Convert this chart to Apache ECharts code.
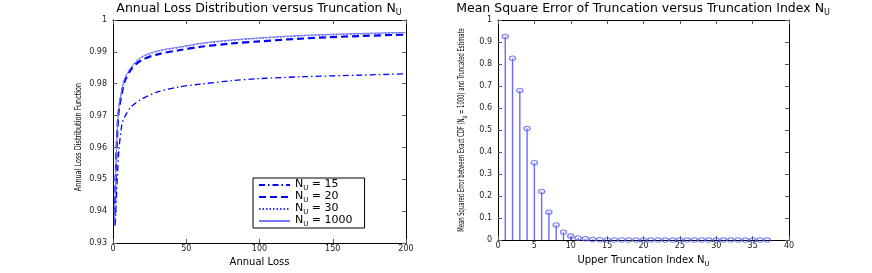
<!DOCTYPE html>
<html><head><meta charset="utf-8">
<script src="https://cdn.jsdelivr.net/npm/echarts@6/dist/echarts.min.js"></script>
<style>html,body{margin:0;padding:0;background:#fff}#c{width:872px;height:273px}</style>
</head><body><div id="c"></div>
<script>
// ---- data ----
var lossGrid = [1, 1.5, 2, 2.5, 3, 4, 6, 8, 12.5, 19, 31, 45, 60, 80, 100, 130, 170, 200];
var cdfN15   = [null, 0.9357, 0.941, 0.946, 0.951, 0.959, 0.967, 0.9696, 0.9728, 0.9750, 0.9775, 0.9790, 0.9799, 0.9809, 0.9816, 0.9822, 0.9827, 0.9831];
var cdfN20   = [0.9355, 0.9445, 0.9533, 0.9600, 0.9655, 0.9718, 0.9770, 0.9808, 0.9846, 0.9873, 0.9893, 0.9905, 0.9916, 0.9926, 0.9933, 0.9942, 0.9950, 0.9954];
var cdfN30   = [0.9356, 0.9449, 0.9538, 0.9608, 0.9663, 0.9726, 0.9778, 0.9815, 0.9851, 0.9881, 0.9902, 0.9913, 0.9925, 0.9935, 0.9942, 0.9950, 0.9956, 0.9960];
var cdfN1000 = [0.9357, 0.9450, 0.9540, 0.9610, 0.9665, 0.9728, 0.9780, 0.9817, 0.9853, 0.9883, 0.9904, 0.9915, 0.9927, 0.9937, 0.9944, 0.9952, 0.9958, 0.9961];
var legendNames = ['N15', 'N20', 'N30', 'N1000'];

var truncIndex = [1, 2, 3, 4, 5, 6, 7, 8, 9, 10, 11, 12, 13, 14, 15, 16, 17, 18, 19, 20, 21, 22, 23, 24, 25, 26, 27, 28, 29, 30, 31, 32, 33, 34, 35, 36, 37];
var mseValues = [0.925, 0.826, 0.680, 0.507, 0.351, 0.221, 0.127, 0.069, 0.036, 0.018, 0.010, 0.006, 0.003, 0.0015, 0.0008, 0.0004, 0.0002, 0.0001, 0.00005, 0, 0, 0, 0, 0, 0, 0, 0, 0, 0, 0, 0, 0, 0, 0, 0, 0, 0];

var leftTitle = 'Annual Loss Distribution versus Truncation N';
var rightTitle = 'Mean Square Error of Truncation versus Truncation Index N';
var leftYName = 'Annual Loss Distribution Function';
var rightYNameA = 'Mean Squared Error between Exact CDF (N';
var rightYNameB = ' = 1000) and Truncated Estimate';

// ---- helpers ----
function pairs(xs, ys) {
  var out = [];
  for (var k = 0; k < xs.length; k++) if (ys[k] !== null) out.push([xs[k], ys[k]]);
  return out;
}
var tickFont = {fontFamily: 'DejaVu Sans', fontSize: 8, color: '#222'};
function richSub(size, subSize, drop) {
  return {
    n: {fontFamily: 'DejaVu Sans', fontSize: size, fontWeight: 'normal', color: '#000', lineHeight: size + 1, verticalAlign: 'top'},
    s: {fontFamily: 'DejaVu Sans', fontSize: subSize, fontWeight: 'normal', color: '#000', lineHeight: subSize + 1, padding: [drop, 0, 0, 0], verticalAlign: 'top'}
  };
}
function axisBase(opts) {
  var a = {
    type: 'value', gridIndex: opts.grid, min: opts.min, max: opts.max, interval: opts.interval,
    position: opts.position,
    splitLine: {show: false},
    axisLine: {show: true, onZero: false, lineStyle: {color: '#000', width: 1}},
    axisTick: {show: true, inside: true, length: 4, lineStyle: {color: '#555'}},
    axisLabel: {show: false}
  };
  if (opts.labels) {
    a.axisLabel = Object.assign({show: true, margin: opts.margin, formatter: function (v) { return String(+v.toFixed(2)); }}, tickFont);
  }
  if (opts.name) {
    a.name = opts.name;
    a.nameLocation = 'middle';
    a.nameGap = opts.nameGap;
    a.nameTextStyle = opts.nameTextStyle;
  }
  return a;
}

var chart = echarts.init(document.getElementById('c'), null, {renderer: 'canvas'});
var option = {
  animation: false,
  backgroundColor: '#fff',
  title: [
    {text: '{n|' + leftTitle + '}{s|U}', left: 259, top: 2, textAlign: 'center', padding: 0,
     textStyle: {rich: richSub(12.5, 8, 7)}},
    {text: '{n|' + rightTitle + '}{s|U}', left: 643, top: 2, textAlign: 'center', padding: 0,
     textStyle: {rich: richSub(12.5, 8, 7)}}
  ],
  graphic: [
    {type: 'text', x: 79, y: 137, rotation: Math.PI / 2, scaleX: 0.72, scaleY: 1,
     style: {text: leftYName, fontFamily: 'DejaVu Sans', fontSize: 9, fill: '#000', align: 'center', verticalAlign: 'middle'}},
    {type: 'text', x: 462, y: 130, rotation: Math.PI / 2, scaleX: 0.62, scaleY: 1,
     style: {text: '{n|' + rightYNameA + '}{s|U}{n|' + rightYNameB + '}', align: 'center', verticalAlign: 'middle',
             rich: {n: {fontFamily: 'DejaVu Sans', fontSize: 8.5, fill: '#000', lineHeight: 10, verticalAlign: 'top'},
                    s: {fontFamily: 'DejaVu Sans', fontSize: 6, fill: '#000', lineHeight: 7, padding: [5, 0, 0, 0], verticalAlign: 'top'}}}}
  ],
  grid: [
    {left: 113, right: 466, top: 20, bottom: 30, show: false},
    {left: 498, right: 83, top: 20, bottom: 30, show: false}
  ],
  xAxis: [
    axisBase({grid: 0, min: 0, max: 200, interval: 50, position: 'bottom', labels: true, margin: 2,
      name: 'Annual Loss', nameGap: 3, nameTextStyle: {fontFamily: 'DejaVu Sans', fontSize: 10, color: '#000'}}),
    axisBase({grid: 0, min: 0, max: 200, interval: 50, position: 'top'}),
    axisBase({grid: 1, min: 0, max: 40, interval: 5, position: 'bottom', labels: true, margin: 2,
      name: '{n|Upper Truncation Index N}{s|U}', nameGap: 3,
      nameTextStyle: {rich: richSub(10, 7, 6)}}),
    axisBase({grid: 1, min: 0, max: 40, interval: 5, position: 'top'})
  ],
  yAxis: [
    axisBase({grid: 0, min: 0.93, max: 1, interval: 0.01, position: 'left', labels: true, margin: 6}),
    axisBase({grid: 0, min: 0.93, max: 1, interval: 0.01, position: 'right'}),
    axisBase({grid: 1, min: 0, max: 1, interval: 0.1, position: 'left', labels: true, margin: 6}),
    axisBase({grid: 1, min: 0, max: 1, interval: 0.1, position: 'right'})
  ],
  legend: {
    orient: 'vertical', left: 253, top: 178,
    padding: [1, 12, 0, 5], itemGap: -1, itemWidth: 31, itemHeight: 10,
    backgroundColor: '#fff', borderColor: '#000', borderWidth: 1,
    data: legendNames,
    itemStyle: {opacity: 0},
    formatter: function (name) { return '{n|N}{s|U}{n| = ' + name.slice(1) + '}'; },
    textStyle: {rich: richSub(11, 7, 6)}
  },
  series: [
    {name: 'N15', type: 'line', xAxisIndex: 0, yAxisIndex: 0, data: pairs(lossGrid, cdfN15), symbol: 'none', smooth: 0.3,
     lineStyle: {color: '#0000ff', width: 1.3, type: [6, 3, 1.5, 3]}, itemStyle: {color: '#0000ff'}},
    {name: 'N20', type: 'line', xAxisIndex: 0, yAxisIndex: 0, data: pairs(lossGrid, cdfN20), symbol: 'none', smooth: 0.3,
     lineStyle: {color: '#0000ff', width: 2.2, type: [7, 4]}, itemStyle: {color: '#0000ff'}},
    {name: 'N30', type: 'line', xAxisIndex: 0, yAxisIndex: 0, data: pairs(lossGrid, cdfN30), symbol: 'none', smooth: 0.3,
     lineStyle: {color: '#3333ff', width: 1, type: [1.5, 2]}, itemStyle: {color: '#3333ff'}},
    {name: 'N1000', type: 'line', xAxisIndex: 0, yAxisIndex: 0, data: pairs(lossGrid, cdfN1000), symbol: 'none', smooth: 0.3,
     lineStyle: {color: '#7777ff', width: 1, type: 'solid'}, itemStyle: {color: '#7777ff'}},
    {name: 'stems', type: 'bar', xAxisIndex: 2, yAxisIndex: 2, data: pairs(truncIndex, mseValues), barWidth: 1.4,
     itemStyle: {color: '#6a6aff'}},
    {name: 'heads', type: 'scatter', xAxisIndex: 2, yAxisIndex: 2, data: pairs(truncIndex, mseValues),
     symbol: 'circle', symbolSize: [6, 4.5], itemStyle: {color: 'rgba(255,255,255,0)', borderColor: '#5a5aff', borderWidth: 1.2}, z: 5}
  ]
};
chart.setOption(option);
</script>
</body></html>
